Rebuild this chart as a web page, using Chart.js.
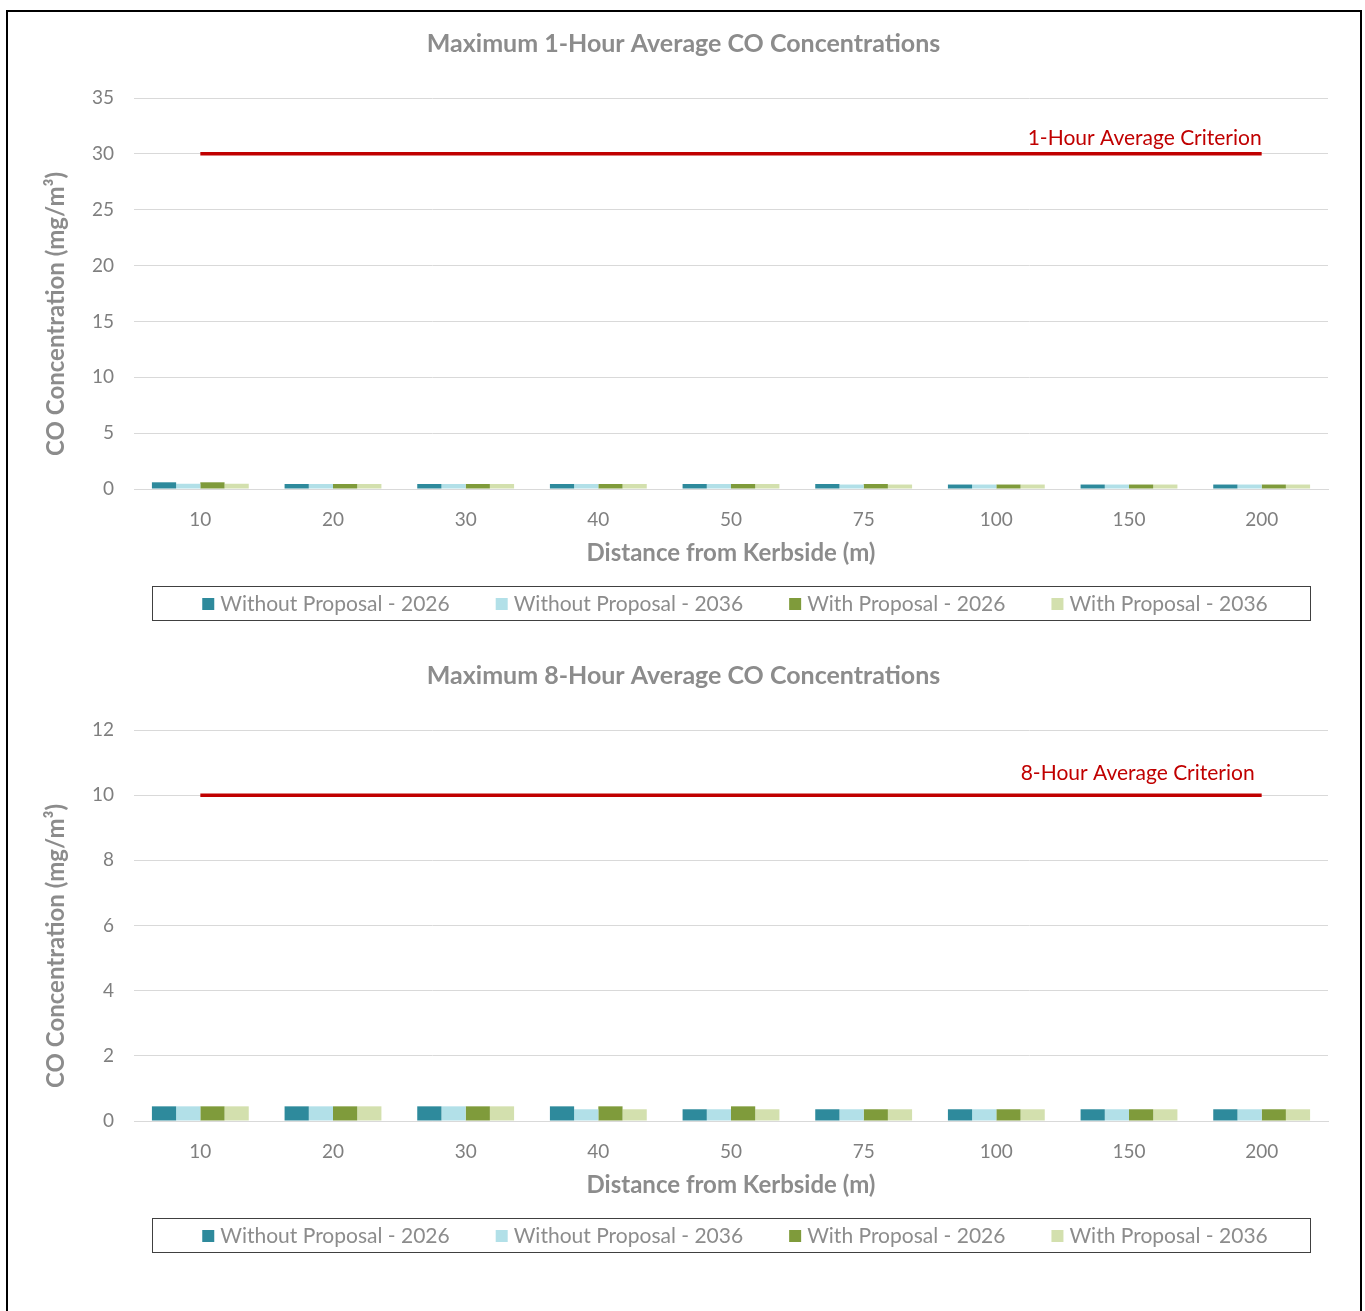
<!DOCTYPE html>
<html>
<head>
<meta charset="utf-8">
<title>CO Concentrations</title>
<script src="https://cdn.jsdelivr.net/npm/chart.js@4.4.1/dist/chart.umd.min.js"></script>
<style>
  body { margin: 0; background: #fff; }
  #frame { position: absolute; left: 6px; top: 10px; width: 1352px; height: 1330px; border: 2px solid #000; border-bottom: none; }
  .box { position: absolute; left: 39px; width: 1301px; height: 615px; }
</style>
</head>
<body>
<div id="frame"></div>
<div class="box" style="top:20px"><canvas id="oneHour"></canvas></div>
<div class="box" style="top:652px"><canvas id="eightHour"></canvas></div>
<script>
// distances from kerbside (m)
const distances = ['10', '20', '30', '40', '50', '75', '100', '150', '200'];
const seriesNames = ['Without Proposal - 2026', 'Without Proposal - 2036', 'With Proposal - 2026', 'With Proposal - 2036'];
const seriesColors = ['#2E8A9C', '#B2E0E8', '#7F9B3B', '#D3E0AE'];

// max 1-hour average (mg/m3)
const oneHourWithout2026 = [0.6, 0.45, 0.45, 0.45, 0.45, 0.45, 0.4, 0.4, 0.4];
const oneHourWithout2036 = [0.47, 0.45, 0.45, 0.45, 0.45, 0.4, 0.4, 0.4, 0.4];
const oneHourWith2026 = [0.6, 0.45, 0.45, 0.45, 0.45, 0.45, 0.4, 0.4, 0.4];
const oneHourWith2036 = [0.47, 0.45, 0.45, 0.45, 0.45, 0.4, 0.4, 0.4, 0.4];
const oneHourCriterion = 30;

// max 8-hour average (mg/m3)
const eightHourWithout2026 = [0.45, 0.45, 0.45, 0.45, 0.36, 0.36, 0.36, 0.36, 0.36];
const eightHourWithout2036 = [0.45, 0.45, 0.45, 0.36, 0.36, 0.36, 0.36, 0.36, 0.36];
const eightHourWith2026 = [0.45, 0.45, 0.45, 0.45, 0.45, 0.36, 0.36, 0.36, 0.36];
const eightHourWith2036 = [0.45, 0.45, 0.45, 0.36, 0.36, 0.36, 0.36, 0.36, 0.36];
const eightHourCriterion = 10;

const FONT = 'Lato';
const GREY = '#8C8C8C';

// boxed legend under the x axis title
const boxedLegend = {
  id: 'boxedLegend',
  afterDraw(chart) {
    const ctx = chart.ctx;
    const area = chart.chartArea;
    const left = area.left + 18, right = area.right - 18;
    const top = area.bottom + 97, h = 34;
    ctx.save();
    ctx.strokeStyle = '#404040';
    ctx.lineWidth = 1;
    ctx.strokeRect(left + 0.5, top + 0.5, right - left, h);

    ctx.font = '21px ' + FONT;
    ctx.textBaseline = 'middle';
    const items = chart.data.datasets.filter(d => d.type !== 'line');
    const widths = items.map(d => ctx.measureText(d.label).width);
    const sq = 12, gap = 6, spacing = 46;
    const total = widths.reduce((a, w) => a + sq + gap + w, 0) + spacing * (items.length - 1);
    let x = (left + right) / 2 + 4 - total / 2;
    const cy = top + h / 2 + 1;
    items.forEach((d, i) => {
      ctx.fillStyle = d.backgroundColor;
      ctx.fillRect(x, cy - sq / 2, sq, sq);
      ctx.fillStyle = GREY;
      ctx.fillText(d.label, x + sq + gap, cy);
      x += sq + gap + widths[i] + spacing;
    });
    ctx.restore();
  }
};

// text label at the end of the criterion line
const criterionLabel = {
  id: 'criterionLabel',
  afterDatasetsDraw(chart, args, opts) {
    const idx = chart.data.datasets.findIndex(d => d.type === 'line');
    const pts = chart.getDatasetMeta(idx).data;
    const last = pts[pts.length - 1];
    const ctx = chart.ctx;
    ctx.save();
    ctx.font = '21px ' + FONT;
    ctx.fillStyle = '#C00000';
    ctx.textAlign = 'right';
    ctx.textBaseline = 'middle';
    ctx.fillText(opts.text, last.x + (opts.dx || 0), last.y - opts.dy);
    ctx.restore();
  }
};

function makeChart(id, title, values, criterion, critText, yMax, yStep, dy, dx) {
  const datasets = values.map((v, i) => ({
    label: seriesNames[i],
    data: v,
    backgroundColor: seriesColors[i],
    borderWidth: 0,
    categoryPercentage: 0.73,
    barPercentage: 1.0,
    order: 2
  }));
  datasets.push({
    type: 'line',
    label: critText,
    data: distances.map(() => criterion),
    borderColor: '#C00000',
    borderWidth: 3.5,
    pointRadius: 0,
    fill: false,
    order: 1
  });

  return new Chart(document.getElementById(id), {
    type: 'bar',
    data: { labels: distances, datasets: datasets },
    options: {
      responsive: true,
      maintainAspectRatio: false,
      animation: false,
      layout: { padding: { left: 0, right: 12, top: 0, bottom: 56 } },
      plugins: {
        legend: { display: false },
        tooltip: { enabled: false },
        title: {
          display: true,
          text: title,
          color: GREY,
          font: { family: FONT, size: 25, weight: 'bold' },
          padding: { top: 9, bottom: 39 }
        },
        criterionLabel: { text: critText, dy: dy, dx: dx }
      },
      scales: {
        x: {
          grid: { display: false },
          border: { display: true, color: '#D9D9D9' },
          ticks: { color: '#7F7F7F', font: { family: FONT, size: 19 }, padding: 11 },
          title: {
            display: true,
            text: 'Distance from Kerbside (m)',
            color: GREY,
            font: { family: FONT, size: 24, weight: 'bold' },
            padding: { top: 0, bottom: 11 }
          },
          afterFit(scale) { scale.height = 90; }
        },
        y: {
          min: 0,
          max: yMax,
          ticks: { stepSize: yStep, color: '#7F7F7F', font: { family: FONT, size: 19 }, padding: 20 },
          grid: { color: '#D9D9D9', drawTicks: false },
          border: { display: false },
          title: {
            display: true,
            // trailing spaces push the rotated title down, as in the original
            text: 'CO Concentration (mg/m³)\u00A0\u00A0\u00A0\u00A0\u00A0\u00A0\u00A0',
            color: GREY,
            font: { family: FONT, size: 24, weight: 'bold' },
            padding: { top: 3, bottom: 0 }
          },
          afterFit(scale) { scale.width = 95; }
        }
      }
    },
    plugins: [boxedLegend, criterionLabel]
  });
}

makeChart('oneHour', 'Maximum 1-Hour Average CO Concentrations',
  [oneHourWithout2026, oneHourWithout2036, oneHourWith2026, oneHourWith2036],
  oneHourCriterion, '1-Hour Average Criterion', 35, 5, 16, 0);

makeChart('eightHour', 'Maximum 8-Hour Average CO Concentrations',
  [eightHourWithout2026, eightHourWithout2036, eightHourWith2026, eightHourWith2036],
  eightHourCriterion, '8-Hour Average Criterion', 12, 2, 22, -7);
</script>
</body>
</html>
